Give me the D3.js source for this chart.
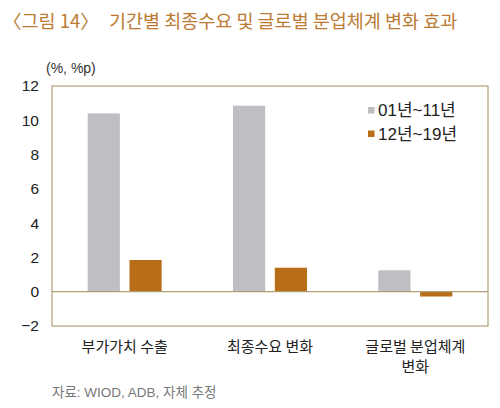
<!DOCTYPE html>
<html>
<head>
<meta charset="utf-8">
<script src="https://cdn.jsdelivr.net/npm/d3@7"></script>
<style>
  body { margin: 0; background: #fff; }
  text { font-family: "Liberation Sans", "Noto Sans CJK KR", sans-serif; }
  .kr { font-family: "Noto Sans CJK KR", sans-serif; }
</style>
</head>
<body>
<div id="chart"></div>
<script>
// data
const categories = [['부가가치 수출'], ['최종수요 변화'], ['글로벌 분업체계', '변화']];
const seriesNames = ['01년~11년', '12년~19년'];
const seriesA = [10.4, 10.85, 1.25];
const seriesB = [1.85, 1.4, -0.28];
const yTicks = [-2, 0, 2, 4, 6, 8, 10, 12];

const colors = ['#bebfc2', '#b86e17'];
const frameColor = '#b1a077';

const width = 500;
const height = 408;
const margin = { top: 86, right: 12, bottom: 82, left: 52 };
const chartWidth = width - margin.left - margin.right;
const chartHeight = height - margin.top - margin.bottom;

const svg = d3.select('#chart')
    .append('svg')
    .attr('width', width)
    .attr('height', height);

// title
const title = svg.append('g')
    .attr('fill', '#bb7b33')
    .style('font-size', '18.5px')
    .style('font-weight', 400);

title.append('text')
    .attr('class', 'kr')
    .attr('x', 3)
    .attr('y', 28)
    .text('〈그림 14〉');

title.append('text')
    .attr('class', 'kr')
    .attr('x', 109)
    .attr('y', 28)
    .text('기간별 최종수요 및 글로벌 분업체계 변화 효과');

svg.append('text')
    .attr('x', 46)
    .attr('y', 73)
    .attr('fill', '#333')
    .style('font-size', '14px')
    .text('(%, %p)');

const chart = svg.append('g')
    .attr('transform', `translate(${margin.left},${margin.top})`);

const x0 = d3.scaleBand()
    .domain(d3.range(categories.length))
    .range([0, chartWidth]);

const x1 = d3.scaleBand()
    .domain(d3.range(seriesNames.length))
    .range([0, 74])
    .paddingInner(0.23);

const y = d3.scaleLinear()
    .domain([-2, 12])
    .range([chartHeight, 0]);

const rows = categories.map((c, i) => [seriesA[i], seriesB[i]]);

const groups = chart.selectAll('.group')
    .data(rows)
    .enter()
    .append('g')
    .attr('transform', (d, i) => `translate(${x0(i) + (x0.bandwidth() - 74) / 2},0)`);

groups.selectAll('rect')
    .data(d => d)
    .enter()
    .append('rect')
    .attr('x', (d, j) => x1(j))
    .attr('y', d => y(Math.max(0, d)))
    .attr('width', x1.bandwidth())
    .attr('height', d => Math.abs(y(d) - y(0)))
    .attr('fill', (d, j) => colors[j]);

// zero line
chart.append('line')
    .attr('x1', 0)
    .attr('x2', chartWidth)
    .attr('y1', y(0))
    .attr('y2', y(0))
    .attr('stroke', frameColor)
    .attr('stroke-width', 1.2);

// frame
chart.append('rect')
    .attr('x', 0)
    .attr('y', 0)
    .attr('width', chartWidth)
    .attr('height', chartHeight)
    .attr('fill', 'none')
    .attr('stroke', frameColor)
    .attr('stroke-width', 1.2);

// y axis
const yAxis = d3.axisLeft(y)
    .tickValues(yTicks)
    .tickSize(0)
    .tickPadding(13)
    .tickFormat(d => d < 0 ? '\u2212' + Math.abs(d) : d);

chart.append('g')
    .call(yAxis)
    .call(g => g.select('.domain').remove())
    .selectAll('text')
    .attr('fill', '#222')
    .style('font-family', '"Liberation Sans", sans-serif')
    .style('font-size', '15.5px');

// x labels
const xl = chart.selectAll('.x-label')
    .data(categories)
    .enter()
    .append('text')
    .attr('class', 'kr')
    .attr('text-anchor', 'middle')
    .attr('fill', '#222')
    .style('font-size', '15px')
    .attr('transform', (d, i) => `translate(${x0(i) + x0.bandwidth() / 2},${chartHeight + 26})`);

xl.selectAll('tspan')
    .data(d => d)
    .enter()
    .append('tspan')
    .attr('x', 0)
    .attr('dy', (d, k) => k === 0 ? 0 : 20)
    .text(d => d);

// legend
const legend = chart.append('g')
    .attr('transform', 'translate(316,24)');

seriesNames.forEach((name, j) => {
    const row = legend.append('g').attr('transform', `translate(0,${j * 23.5})`);
    row.append('rect')
        .attr('x', 0)
        .attr('y', -3)
        .attr('width', 6.5)
        .attr('height', 6.5)
        .attr('fill', colors[j]);
    row.append('text')
        .attr('x', 10)
        .attr('y', 0)
        .attr('dy', '0.36em')
        .attr('fill', '#222')
        .style('font-size', '17px')
        .text(name);
});

// source
svg.append('text')
    .attr('x', 52)
    .attr('y', 397)
    .attr('fill', '#777')
    .style('font-size', '13.5px')
    .text('자료: WIOD, ADB, 자체 추정');
</script>
</body>
</html>
